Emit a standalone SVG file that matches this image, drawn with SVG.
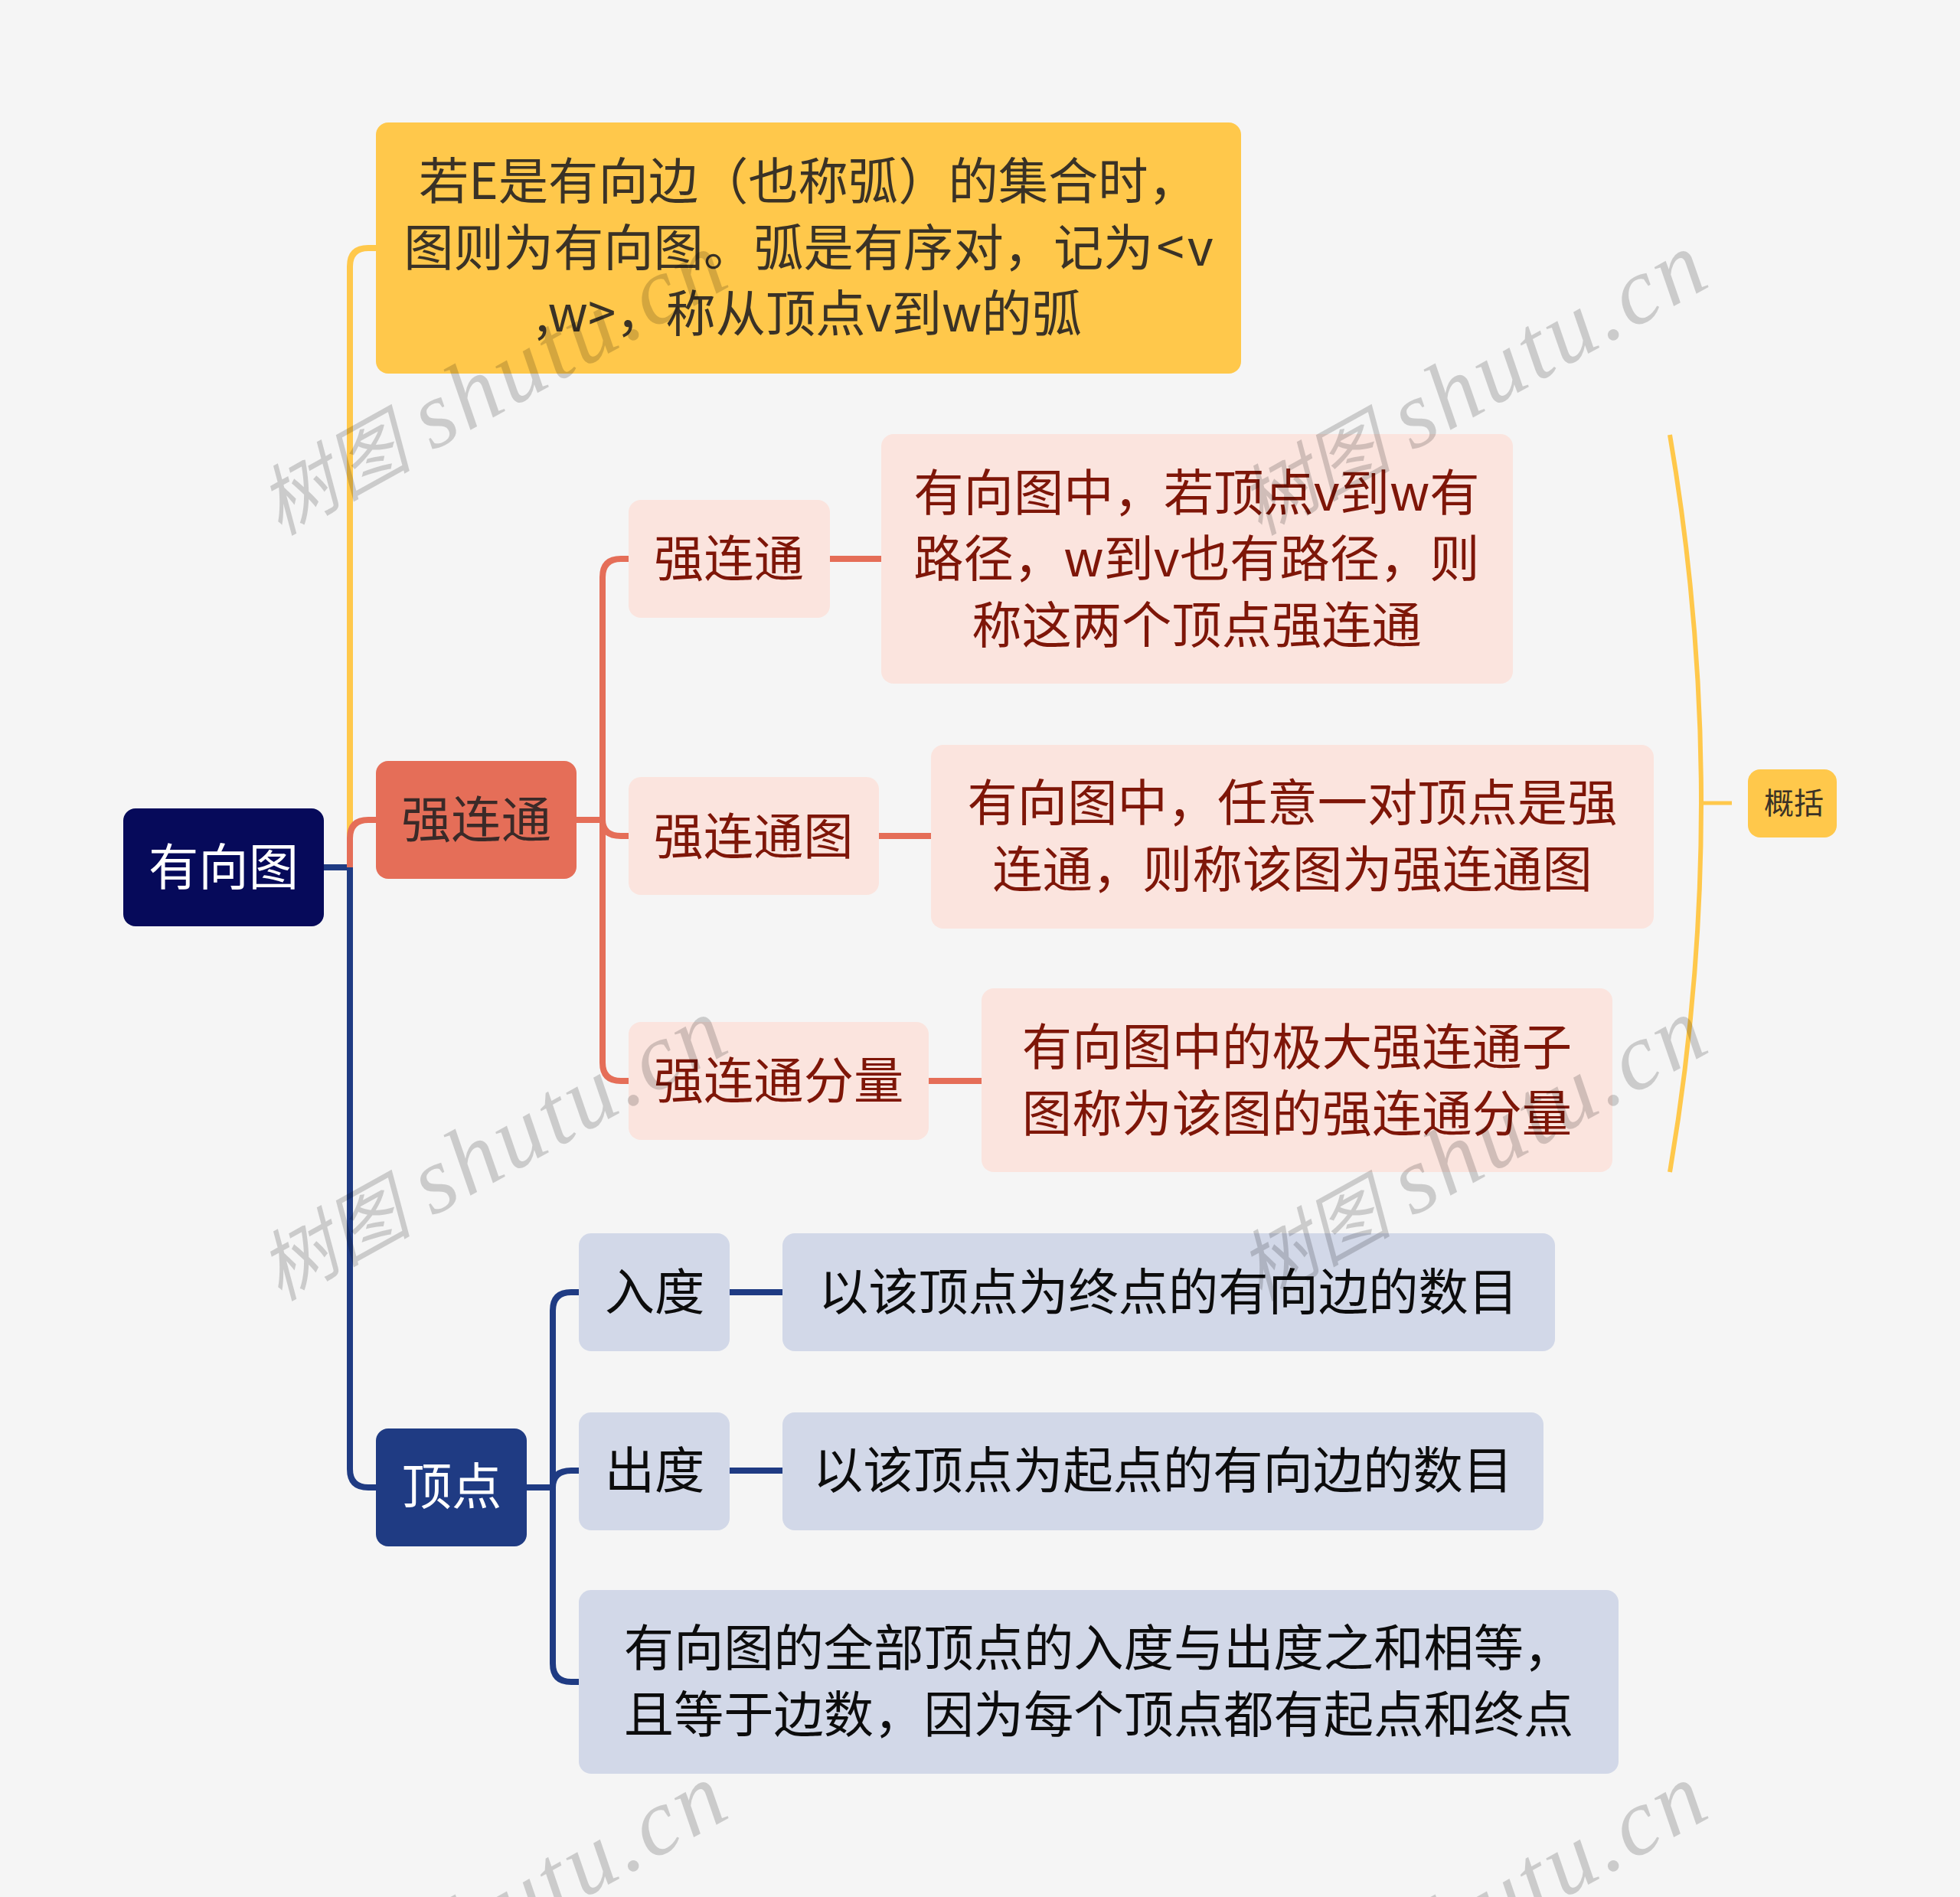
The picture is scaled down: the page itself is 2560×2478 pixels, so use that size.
<svg xmlns="http://www.w3.org/2000/svg" width="2560" height="2478" viewBox="0 0 2560 2478">
<style>
text{font-family:"Noto Sans CJK SC","Liberation Sans",sans-serif;font-size:65.3px;text-anchor:middle}
.c{fill:none;stroke-width:8}
.y{stroke:#ffc84b}.o{stroke:#e56e58}.b{stroke:#1f3b83}
.wm{font-family:"Liberation Serif","Noto Sans CJK SC",serif;font-style:italic;font-size:100px;fill:#000;fill-opacity:.17;text-anchor:start}
.wm tspan{font-size:124px;letter-spacing:4.5px}
.tr{fill:#7e1608}.td{fill:#3a3226}.tb{fill:#0c0c0c}
.pk{fill:#fbe4de}.lb{fill:#d2d8e8}
</style>
<rect width="2560" height="2478" fill="#f5f5f5"/>
<g id="connectors">
<path class="c y" d="M457 1133V348Q457 324 481 324H491"/>
<path class="c y" d="M2181 568Q2263 1049 2181 1531" style="stroke-width:6"/>
<path class="c y" d="M2222 1049H2262" style="stroke-width:5"/>
<path class="c b" d="M423 1133H457V1919Q457 1943 481 1943H491"/>
<path class="c o" d="M457 1133V1095Q457 1071 481 1071H491"/>
<path class="c o" d="M753 1071H787"/>
<path class="c o" d="M787 1071V754Q787 730 811 730H821"/>
<path class="c o" d="M787 1071Q787 1092 811 1092H821"/>
<path class="c o" d="M787 1071V1388Q787 1412 811 1412H821"/>
<path class="c o" d="M1084 730H1151M1148 1092H1216M1213 1412H1282"/>
<path class="c b" d="M688 1943H722"/>
<path class="c b" d="M722 1943V1712Q722 1688 746 1688H756"/>
<path class="c b" d="M722 1943Q722 1921 746 1921H756"/>
<path class="c b" d="M722 1943V2173Q722 2197 746 2197H756"/>
<path class="c b" d="M953 1688H1022M953 1921H1022"/>
</g>
<g id="root"><rect x="161" y="1056" width="262" height="154" rx="16" fill="#060a5a"/><text x="292" y="1156" fill="#fff">有向图</text></g>
<g id="n-def"><rect x="491" y="160" width="1130" height="328" rx="16" fill="#ffc84b"/>
<text class="td" x="1056" y="260">若E是有向边（也称弧）的集合时，</text>
<text class="td" x="1056" y="347">图则为有向图。弧是有序对，记为<tspan dx="4">&lt;</tspan><tspan dx="4">v</tspan></text>
<text class="td" x="1056" y="433">,w&gt;，称从顶点v到w的弧</text></g>
<g id="n-strong"><rect x="491" y="994" width="262" height="154" rx="16" fill="#e56e58"/><text x="622" y="1094" fill="#3a2a28">强连通</text></g>
<g id="n-vertex"><rect x="491" y="1866" width="197" height="154" rx="16" fill="#1f3b83"/><text x="590" y="1965" fill="#fff">顶点</text></g>
<g id="n-a1"><rect class="pk" x="821" y="653" width="263" height="154" rx="16"/><text class="tr" x="952" y="753">强连通</text></g>
<g id="n-a1d"><rect class="pk" x="1151" y="567" width="825" height="326" rx="16"/>
<text class="tr" x="1563" y="667">有向图中，若顶点v到w有</text>
<text class="tr" x="1563" y="753">路径，w到v也有路径，则</text>
<text class="tr" x="1563" y="840">称这两个顶点强连通</text></g>
<g id="n-a2"><rect class="pk" x="821" y="1015" width="327" height="154" rx="16"/><text class="tr" x="984" y="1116">强连通图</text></g>
<g id="n-a2d"><rect class="pk" x="1216" y="973" width="944" height="240" rx="16"/>
<text class="tr" x="1688" y="1072">有向图中，任意一对顶点是强</text>
<text class="tr" x="1688" y="1159">连通，则称该图为强连通图</text></g>
<g id="n-a3"><rect class="pk" x="821" y="1335" width="392" height="154" rx="16"/><text class="tr" x="1017" y="1435">强连通分量</text></g>
<g id="n-a3d"><rect class="pk" x="1282" y="1291" width="824" height="240" rx="16"/>
<text class="tr" x="1694" y="1391">有向图中的极大强连通子</text>
<text class="tr" x="1694" y="1478">图称为该图的强连通分量</text></g>
<g id="n-b1"><rect class="lb" x="756" y="1611" width="197" height="154" rx="16"/><text class="tb" x="855" y="1711">入度</text></g>
<g id="n-b1d"><rect class="lb" x="1022" y="1611" width="1009" height="154" rx="16"/><text class="tb" x="1526" y="1711">以该顶点为终点的有向边的数目</text></g>
<g id="n-b2"><rect class="lb" x="756" y="1845" width="197" height="154" rx="16"/><text class="tb" x="855" y="1944">出度</text></g>
<g id="n-b2d"><rect class="lb" x="1022" y="1845" width="994" height="154" rx="16"/><text class="tb" x="1519" y="1944">以该顶点为起点的有向边的数目</text></g>
<g id="n-b3"><rect class="lb" x="756" y="2077" width="1358" height="240" rx="16"/>
<text class="tb" x="1435" y="2176">有向图的全部顶点的入度与出度之和相等，</text>
<text class="tb" x="1435" y="2263">且等于边数，因为每个顶点都有起点和终点</text></g>
<g id="n-sum"><rect x="2283" y="1005" width="116" height="89" rx="16" fill="#ffc84b"/><text class="td" x="2343" y="1063" style="font-size:39px">概括</text></g>
<g id="watermarks">
<text class="wm" transform="translate(365 700) rotate(-29)">树图<tspan dx="28">shutu.cn</tspan></text>
<text class="wm" transform="translate(1645 700) rotate(-29)">树图<tspan dx="28">shutu.cn</tspan></text>
<text class="wm" transform="translate(365 1700) rotate(-29)">树图<tspan dx="28">shutu.cn</tspan></text>
<text class="wm" transform="translate(1645 1700) rotate(-29)">树图<tspan dx="28">shutu.cn</tspan></text>
<text class="wm" transform="translate(365 2700) rotate(-29)">树图<tspan dx="28">shutu.cn</tspan></text>
<text class="wm" transform="translate(1645 2700) rotate(-29)">树图<tspan dx="28">shutu.cn</tspan></text>
</g>
</svg>
